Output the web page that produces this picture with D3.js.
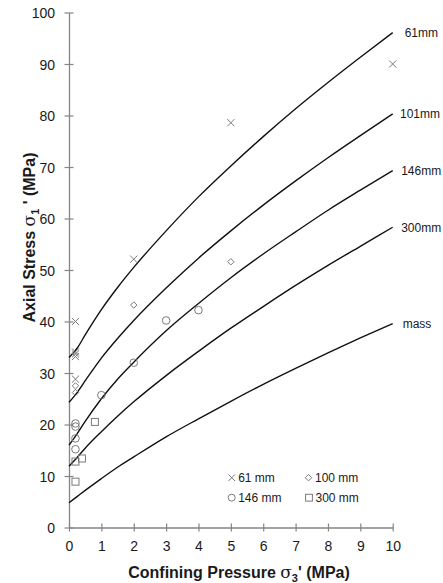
<!DOCTYPE html>
<html><head><meta charset="utf-8">
<script src="https://cdn.jsdelivr.net/npm/d3@7"></script>
<style>body{margin:0;background:#fff;} svg{display:block;font-family:"Liberation Sans",Arial,sans-serif;}</style>
</head><body><svg id="c" width="443" height="583"></svg>
<script>
// ---- data ----
const sigma3 = [0, 0.25, 0.5, 1, 1.5, 2, 3, 4, 5, 6, 7, 8, 9, 10];
const curve61   = [33.0, 34.8, 37.4, 42.3, 46.6, 50.5, 57.6, 64.2, 70.2, 75.9, 81.3, 86.4, 91.3, 96.1];
const curve101  = [24.3, 26.2, 28.5, 32.9, 36.7, 40.2, 46.5, 52.3, 57.6, 62.6, 67.3, 71.8, 76.1, 80.3];
const curve146  = [16.0, 18.2, 20.6, 25.0, 28.8, 32.1, 38.2, 43.5, 48.5, 53.1, 57.4, 61.6, 65.5, 69.3];
const curve300  = [11.9, 13.6, 15.4, 18.6, 21.6, 24.4, 29.5, 34.2, 38.7, 42.9, 47.0, 50.9, 54.6, 58.3];
const curveMass = [4.8, 6.0, 7.2, 9.5, 11.7, 13.7, 17.6, 21.1, 24.5, 27.8, 30.9, 33.9, 36.8, 39.6];
const curveLabels = ["61mm", "101mm", "146mm", "300mm", "mass"];

const pts61x  = [0.2, 0.2, 0.2, 0.2, 0.2, 2, 5, 10];
const pts61y  = [40.0, 34.1, 33.7, 33.2, 28.8, 52.1, 78.6, 90.0];
const pts100x = [0.2, 0.2, 2, 5];
const pts100y = [27.5, 26.2, 43.2, 51.6];
const pts146x = [0.2, 0.2, 0.2, 0.2, 1, 2, 3, 4];
const pts146y = [20.2, 19.6, 17.3, 15.2, 25.7, 32.0, 40.2, 42.2];
const pts300x = [0.2, 0.2, 0.4, 0.8];
const pts300y = [12.8, 8.9, 13.4, 20.5];
const legendLabels = ["61 mm", "100 mm", "146 mm", "300 mm"];

const xTicks = [0, 1, 2, 3, 4, 5, 6, 7, 8, 9, 10];
const yTicks = [0, 10, 20, 30, 40, 50, 60, 70, 80, 90, 100];

// ---- chart ----
const svg = d3.select("#c");
const x = d3.scaleLinear().domain([0, 10]).range([69, 392.7]);
const y = d3.scaleLinear().domain([0, 100]).range([527.5, 12.5]);
const axisCol = "#858585", textCol = "#1a1a1a", markCol = "#7a7a7a";

// axes
const gx = svg.append("g").attr("transform", `translate(0,${y(0)})`)
  .call(d3.axisBottom(x).tickValues(xTicks).tickSize(0).tickPadding(0).tickFormat(d3.format("d")));
gx.select(".domain").attr("stroke", axisCol).attr("stroke-width", 1.3);
gx.selectAll(".tick line").remove();
gx.selectAll(".tick").append("line").attr("y1", -4).attr("y2", 4).attr("stroke", axisCol).attr("stroke-width", 1.2);
gx.selectAll(".tick text").attr("y", 23).attr("dy", null).attr("fill", textCol)
  .attr("font-size", 14).attr("font-family", "Liberation Sans, Arial, sans-serif");

const gy = svg.append("g").attr("transform", `translate(${x(0)},0)`)
  .call(d3.axisLeft(y).tickValues(yTicks).tickSize(0).tickPadding(0).tickFormat(d3.format("d")));
gy.select(".domain").attr("stroke", axisCol).attr("stroke-width", 1.3);
gy.selectAll(".tick line").remove();
gy.selectAll(".tick").append("line").attr("x1", -4.5).attr("x2", 4.5).attr("stroke", axisCol).attr("stroke-width", 1.2);
gy.selectAll(".tick text").attr("x", -14).attr("dy", "0.36em").attr("fill", textCol)
  .attr("font-size", 14).attr("font-family", "Liberation Sans, Arial, sans-serif");

// curves
const curves = [curve61, curve101, curve146, curve300, curveMass];
const labelDx = [12, 7.3, 8.5, 8.5, 10];
const line = d3.line().x(d => x(d[0])).y(d => y(d[1])).curve(d3.curveMonotoneX);
curves.forEach((c, i) => {
  const data = sigma3.map((s, j) => [s, c[j]]);
  svg.append("path").attr("d", line(data)).attr("fill", "none")
    .attr("stroke", "#111").attr("stroke-width", 1.4);
  svg.append("text").attr("x", x(10) + labelDx[i])
    .attr("y", y(c[c.length - 1]) + 4.3)
    .attr("font-size", 12).attr("fill", textCol).text(curveLabels[i]);
});

// markers
function cross(g, cx, cy, s) {
  g.append("path").attr("d", `M${cx-s},${cy-s}L${cx+s},${cy+s}M${cx-s},${cy+s}L${cx+s},${cy-s}`)
    .attr("stroke", markCol).attr("stroke-width", 1).attr("fill", "none");
}
function diamond(g, cx, cy, s) {
  g.append("path").attr("d", `M${cx},${cy-s}L${cx+s},${cy}L${cx},${cy+s}L${cx-s},${cy}Z`)
    .attr("stroke", markCol).attr("stroke-width", 1).attr("fill", "none");
}
function circ(g, cx, cy, r) {
  g.append("circle").attr("cx", cx).attr("cy", cy).attr("r", r)
    .attr("stroke", markCol).attr("stroke-width", 1).attr("fill", "none");
}
function square(g, cx, cy, s) {
  g.append("rect").attr("x", cx - s).attr("y", cy - s).attr("width", 2*s).attr("height", 2*s)
    .attr("stroke", markCol).attr("stroke-width", 1).attr("fill", "none");
}
const gm = svg.append("g");
pts61x.forEach((v, i) => cross(gm, x(v), y(pts61y[i]), 3.6));
pts100x.forEach((v, i) => diamond(gm, x(v), y(pts100y[i]), 3.2));
pts146x.forEach((v, i) => circ(gm, x(v), y(pts146y[i]), 3.8));
pts300x.forEach((v, i) => square(gm, x(v), y(pts300y[i]), 3.5));

// legend
const lg = svg.append("g");
const lpos = [[231.7, 477.7], [308.5, 477.7], [231.7, 497.7], [309, 497.7]];
cross(lg, lpos[0][0], lpos[0][1], 3.3);
diamond(lg, lpos[1][0], lpos[1][1], 3.2);
circ(lg, lpos[2][0], lpos[2][1], 3.5);
square(lg, lpos[3][0], lpos[3][1], 3.4);
legendLabels.forEach((t, i) => {
  lg.append("text").attr("x", lpos[i][0] + 6.5).attr("y", lpos[i][1] + 4.3)
    .attr("font-size", 12).attr("fill", textCol).text(t);
});

// axis titles
const xt = svg.append("text").attr("x", 239).attr("y", 578).attr("text-anchor", "middle")
  .attr("font-size", 16).attr("font-weight", "bold").attr("fill", textCol);
xt.append("tspan").text("Confining Pressure ");
xt.append("tspan").attr("font-family", "DejaVu Serif, serif").attr("font-weight", "normal").attr("font-size", 17).text("σ");
xt.append("tspan").attr("font-size", 11).attr("dy", 4).text("3");
xt.append("tspan").attr("dy", -4).text("' (MPa)");

const yt = svg.append("text").attr("transform", "translate(34.5,237.5) rotate(-90)").attr("text-anchor", "middle")
  .attr("font-size", 16).attr("font-weight", "bold").attr("fill", textCol);
yt.append("tspan").text("Axial Stress ");
yt.append("tspan").attr("font-family", "DejaVu Serif, serif").attr("font-weight", "normal").attr("font-size", 17).text("σ");
yt.append("tspan").attr("font-size", 11).attr("dy", 4).text("1");
yt.append("tspan").attr("dy", -4).text(" ' (MPa)");
</script></body></html>
